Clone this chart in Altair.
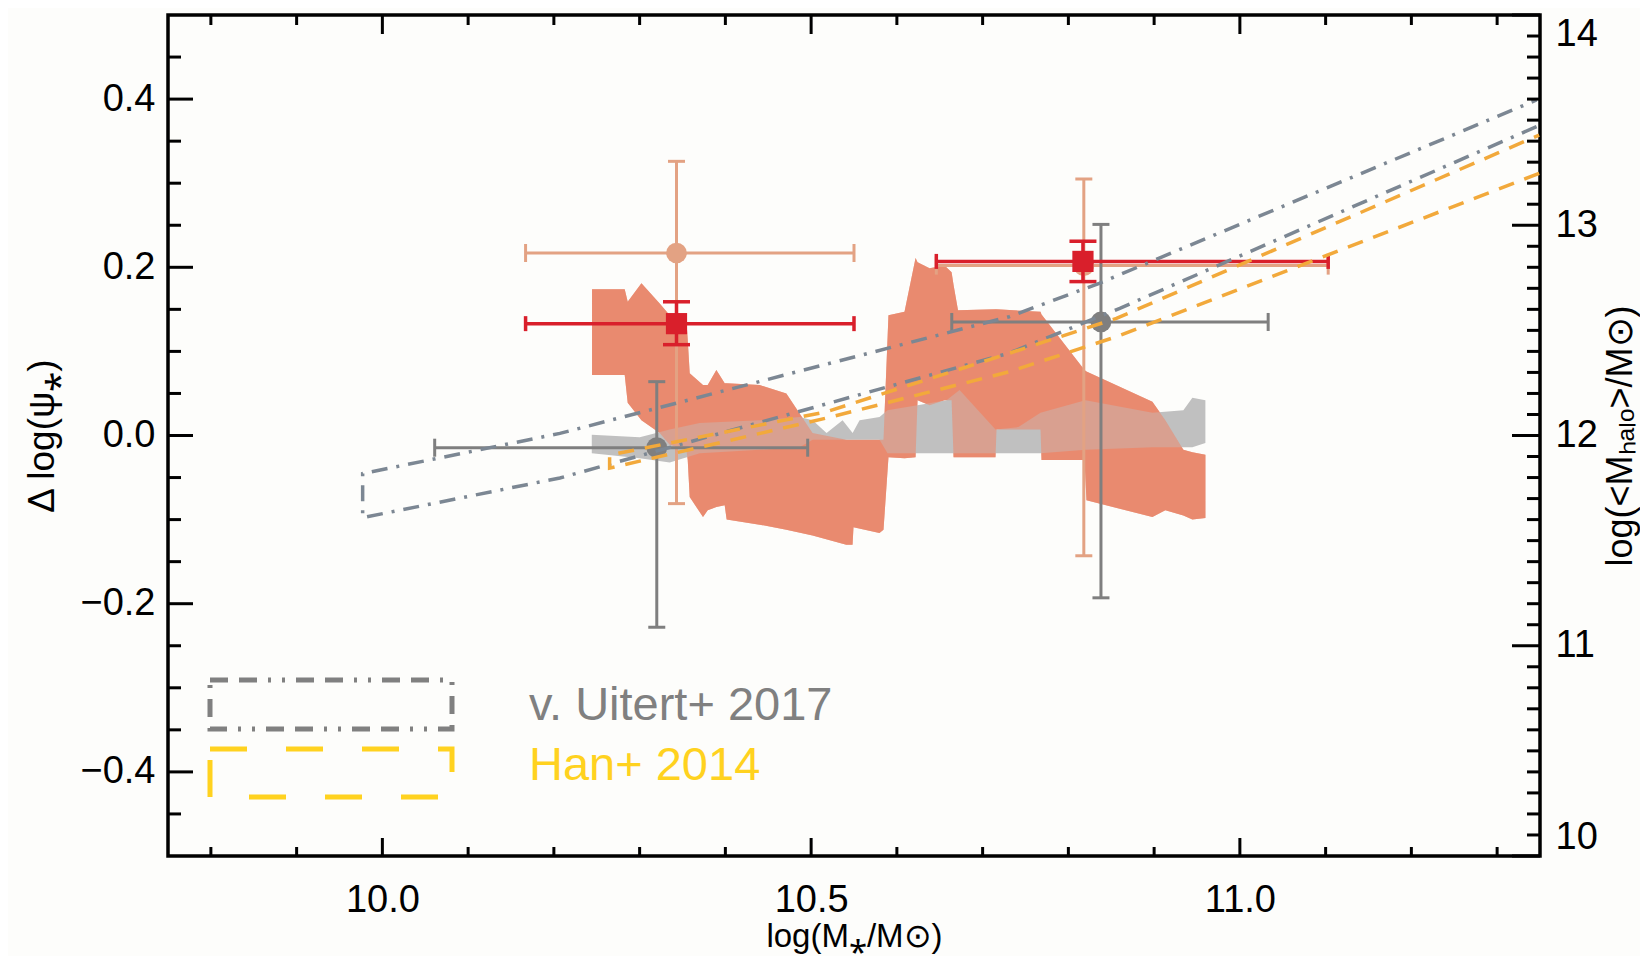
import altair as alt
import pandas as pd

# ---------------- data ----------------
# salmon shaded band (left axis)
salmon_x = [10.2445, 10.2826, 10.2861, 10.3021, 10.3234, 10.3351, 10.3545, 10.3561, 10.3584, 10.3739,
            10.3794, 10.3895, 10.3992, 10.4015, 10.4400, 10.4711, 10.5017, 10.5410, 10.5483, 10.5494,
            10.5797, 10.5844, 10.5902, 10.6089, 10.6218, 10.6241, 10.6381, 10.6556, 10.6638, 10.6661,
            10.6713, 10.7150, 10.7162, 10.7675, 10.7687, 10.8188, 10.8211, 10.8980, 10.9131, 10.9341,
            10.9446, 10.9598]
salmon_hi = [0.174, 0.174, 0.159, 0.181, 0.157, 0.143, 0.137, 0.114, 0.074, 0.060,
             0.060, 0.078, 0.062, 0.062, 0.060, 0.050, 0.003, -0.005, -0.005, -0.005,
             -0.005, -0.005, 0.143, 0.147, 0.211, 0.206, 0.199, 0.202, 0.194, 0.179,
             0.149, 0.150, 0.150, 0.147, 0.144, 0.078, 0.076, 0.040, 0.018, -0.017,
             -0.020, -0.023]
salmon_lo = [0.072, 0.072, 0.039, 0.018, 0.003, -0.011, -0.017, -0.029, -0.073, -0.097,
             -0.089, -0.085, -0.083, -0.100, -0.106, -0.112, -0.119, -0.130, -0.130, -0.109,
             -0.116, -0.112, -0.026, -0.027, -0.026, 0.042, 0.036, 0.042, 0.042, -0.026,
             -0.026, -0.026, 0.007, 0.007, -0.029, -0.029, -0.077, -0.097, -0.089, -0.095,
             -0.100, -0.098]

# grey shaded band (left axis)
grey_x = [10.2442, 10.3001, 10.3351, 10.3701, 10.4400, 10.4866, 10.5017, 10.5180, 10.5367, 10.5484,
          10.5565, 10.5798, 10.5891, 10.6241, 10.6579, 10.6731, 10.7150, 10.7418, 10.7675, 10.8199,
          10.8980, 10.9341, 10.9446, 10.9598]
grey_hi = [0.001, -0.002, 0.007, 0.015, 0.018, 0.022, 0.018, 0.003, 0.018, 0.003,
           0.018, 0.022, 0.030, 0.036, 0.042, 0.054, 0.007, 0.010, 0.027, 0.042,
           0.027, 0.030, 0.045, 0.042]
grey_lo = [-0.021, -0.027, -0.032, -0.021, -0.017, -0.014, -0.005, -0.005, -0.005, -0.005,
           -0.005, -0.005, -0.021, -0.021, -0.021, -0.021, -0.021, -0.021, -0.021, -0.017,
           -0.014, -0.014, -0.014, -0.009]

# data points with error bars
peach_x = [10.343, 10.818]
peach_y = [0.217, 0.202]
peach_xlo = [10.167, 10.646]
peach_xhi = [10.550, 11.103]
peach_ylo = [-0.081, -0.143]
peach_yhi = [0.326, 0.305]

red_x = [10.343, 10.817]
red_y = [0.133, 0.207]
red_xlo = [10.167, 10.646]
red_xhi = [10.550, 11.103]
red_ylo = [0.108, 0.183]
red_yhi = [0.159, 0.231]

grey_px = [10.320, 10.838]
grey_py = [-0.0145, 0.135]
grey_xlo = [10.061, 10.664]
grey_xhi = [10.496, 11.033]
grey_ylo = [-0.228, -0.193]
grey_yhi = [0.064, 0.251]

# model bands (right axis, log <M_halo>)
uitert_x_up = [9.977, 10.207, 10.731, 10.836, 11.346]
uitert_up = [11.819, 12.010, 12.565, 12.724, 13.596]
uitert_x_lo = [9.977, 10.207, 10.731, 10.860, 11.346]
uitert_lo = [11.609, 11.798, 12.392, 12.605, 13.469]
han_x = [10.265, 10.518, 10.731, 10.856, 11.349]
han_up = [11.907, 12.113, 12.391, 12.557, 13.429]
han_lo = [11.845, 12.083, 12.303, 12.470, 13.247]

# tick positions
x_major = [10.0, 10.5, 11.0]
x_minor = [9.8, 9.9, 10.1, 10.2, 10.3, 10.4, 10.6, 10.7, 10.8, 10.9, 11.1, 11.2, 11.3]
y_major = [-0.4, -0.2, 0.0, 0.2, 0.4]
y_minor = [-0.45, -0.35, -0.3, -0.25, -0.15, -0.1, -0.05, 0.05, 0.1, 0.15, 0.25, 0.3, 0.35, 0.45]
r_major = [10, 11, 12, 13, 14]
r_minor = [10.1, 10.2, 10.3, 10.4, 10.5, 10.6, 10.7, 10.8, 10.9,
           11.1, 11.2, 11.3, 11.4, 11.5, 11.6, 11.7, 11.8, 11.9,
           12.1, 12.2, 12.3, 12.4, 12.5, 12.6, 12.7, 12.8, 12.9,
           13.1, 13.2, 13.3, 13.4, 13.5, 13.6, 13.7, 13.8, 13.9]

legend_labels = ["v. Uitert+ 2017", "Han+ 2014"]

# ---------------- styling ----------------
W, H = 1372, 841
FONT = "Liberation Sans"
BG = "#FDFDFB"
SALMON = "#E98B6F"
GREYBAND = "#C0C0C0"
PEACH = "#E3A283"
RED = "#D91F2B"
GREY = "#7F7F7F"
SLATE = "#7C8793"
ORANGE = "#F2A93B"
YELLOW = "#FFD21F"

XS = alt.Scale(domain=[9.75, 11.35], nice=False, zero=False)
YS = alt.Scale(domain=[-0.5, 0.5], nice=False, zero=False)
RS = alt.Scale(domain=[10.0, 14.0], nice=False, zero=False)

x_axis = alt.Axis(orient="bottom", values=x_major, format=".1f", ticks=False, domain=False,
                  grid=False, labelFontSize=38, labelPadding=25, title="log(M⁎/M⊙)",
                  titleFontSize=33, titlePadding=1)
y_axis = alt.Axis(orient="left", values=y_major, format=".1f", ticks=False, domain=False,
                  grid=False, labelFontSize=38, labelPadding=13, title="Δ log(ψ⁎)",
                  titleFontSize=37, titlePadding=18)
r_axis = alt.Axis(orient="right", values=r_major, format="d", ticks=False, domain=False,
                  grid=False, labelFontSize=38, labelPadding=15, labelFlush=True,
                  title="log(<Mₕₐₗₒ>/M⊙)", titleFontSize=36, titleAngle=270,
                  titleBaseline="top", titlePadding=6)


def X(f):
    return alt.X(f, scale=XS, axis=x_axis)


def Y(f):
    return alt.Y(f, scale=YS, axis=y_axis)


def R(f):
    return alt.Y(f, scale=RS, axis=r_axis)


# ---------------- bands ----------------
sal_df = pd.DataFrame({"x": salmon_x, "hi": salmon_hi, "lo": salmon_lo})
gry_df = pd.DataFrame({"x": grey_x, "hi": grey_hi, "lo": grey_lo})

salmon = alt.Chart(sal_df).mark_area(color=SALMON, opacity=1, interpolate="linear").encode(
    x=X("x:Q"), y=Y("hi:Q"), y2="lo:Q")
greyband = alt.Chart(gry_df).mark_area(color=GREYBAND, opacity=1, interpolate="linear").encode(
    x=X("x:Q"), y=Y("hi:Q"), y2="lo:Q")
salmon_tint = alt.Chart(sal_df).mark_area(color=SALMON, opacity=0.6, interpolate="linear").encode(
    x=X("x:Q"), y=Y("hi:Q"), y2="lo:Q")


# ---------------- error bars ----------------
def errorbars(xs, ys, xlo, xhi, ylo, yhi, color, lw, cap_h, cap_v):
    df = pd.DataFrame({"x": xs, "y": ys, "xlo": xlo, "xhi": xhi, "ylo": ylo, "yhi": yhi})
    base = alt.Chart(df)
    hbar = base.mark_rule(color=color, strokeWidth=lw).encode(
        x=X("xlo:Q"), x2="xhi:Q", y=Y("y:Q"))
    vbar = base.mark_rule(color=color, strokeWidth=lw).encode(
        x=X("x:Q"), y=Y("ylo:Q"), y2="yhi:Q")
    hcap = base.transform_fold(["xlo", "xhi"], as_=["k", "xe"]).mark_tick(
        orient="vertical", size=cap_h, thickness=lw, color=color, opacity=1).encode(
        x=X("xe:Q"), y=Y("y:Q"))
    vcap = base.transform_fold(["ylo", "yhi"], as_=["k", "ye"]).mark_tick(
        orient="horizontal", size=cap_v, thickness=lw, color=color, opacity=1).encode(
        x=X("x:Q"), y=Y("ye:Q"))
    return df, [hbar, vbar, hcap, vcap]


peach_df, peach_bars = errorbars(peach_x, peach_y, peach_xlo, peach_xhi, peach_ylo, peach_yhi,
                                 PEACH, 3, 18, 17)
grey_df, grey_bars = errorbars(grey_px, grey_py, grey_xlo, grey_xhi, grey_ylo, grey_yhi,
                               GREY, 3, 18, 17)
red_df, red_bars = errorbars(red_x, red_y, red_xlo, red_xhi, red_ylo, red_yhi,
                             RED, 3.5, 15, 27)

peach_pts = alt.Chart(peach_df).mark_circle(size=430, color=PEACH, opacity=1).encode(
    x=X("x:Q"), y=Y("y:Q"))
grey_pts = alt.Chart(grey_df).mark_circle(size=430, color=GREY, opacity=1).encode(
    x=X("x:Q"), y=Y("y:Q"))
red_pts = alt.Chart(red_df).mark_square(size=450, color=RED, opacity=1).encode(
    x=X("x:Q"), y=Y("y:Q"))

# ---------------- in-plot legend ----------------
leg_df = pd.DataFrame({"label": legend_labels})
leg_grey_box = alt.Chart(leg_df.iloc[[0]]).mark_rect(
    fillOpacity=0, stroke="#808080", strokeWidth=5,
    strokeDash=[18, 11, 18, 11, 3, 11, 3, 11]).encode(
    x=alt.value(42), x2=alt.value(284), y=alt.value(665), y2=alt.value(714))
leg_yel_box = alt.Chart(leg_df.iloc[[1]]).mark_rect(
    fillOpacity=0, stroke=YELLOW, strokeWidth=5, strokeDash=[37, 39]).encode(
    x=alt.value(42), x2=alt.value(284), y=alt.value(734), y2=alt.value(782))
leg_grey_txt = alt.Chart(leg_df.iloc[[0]]).mark_text(
    font=FONT, fontSize=47, color="#808080", align="left", baseline="alphabetic").encode(
    text="label:N", x=alt.value(361), y=alt.value(705))
leg_yel_txt = alt.Chart(leg_df.iloc[[1]]).mark_text(
    font=FONT, fontSize=47, color=YELLOW, align="left", baseline="alphabetic").encode(
    text="label:N", x=alt.value(361), y=alt.value(765))


# ---------------- inward tick marks ----------------
def xticks(vals, length, top):
    y0, y1 = (0, length) if top else (H, H - length)
    return alt.Chart(pd.DataFrame({"v": vals})).mark_rule(color="black", strokeWidth=3).encode(
        x=X("v:Q"), y=alt.value(y0), y2=alt.value(y1))


def yticks(vals, length, enc, right):
    x0, x1 = (W, W - length) if right else (0, length)
    return alt.Chart(pd.DataFrame({"v": vals})).mark_rule(color="black", strokeWidth=3).encode(
        y=enc("v:Q"), x=alt.value(x0), x2=alt.value(x1))


tick_layers = [
    xticks(x_major, 18, False), xticks(x_minor, 9, False),
    xticks(x_major, 19, True), xticks(x_minor, 10, True),
    yticks(y_major, 25, Y, False), yticks(y_minor, 13, Y, False),
]

left_group = alt.layer(
    salmon, greyband, salmon_tint,
    *peach_bars, peach_pts,
    *grey_bars, grey_pts,
    *red_bars, red_pts,
    leg_grey_box, leg_yel_box, leg_grey_txt, leg_yel_txt,
    *tick_layers,
)


# ---------------- model bands on the right axis ----------------
def outline(xu, yu, xl, yl):
    xs = list(reversed(xl)) + list(xu)
    ys = list(reversed(yl)) + list(yu)
    return pd.DataFrame({"x": xs, "y": ys, "i": list(range(len(xs)))})


uitert_df = outline(uitert_x_up, uitert_up, uitert_x_lo, uitert_lo)
han_df = outline(han_x, han_up, han_x, han_lo)

uitert_line = alt.Chart(uitert_df).mark_line(
    color=SLATE, strokeWidth=3.5, strokeDash=[16, 9, 3, 9], clip=True).encode(
    x=X("x:Q"), y=R("y:Q"), order="i:Q")
han_line = alt.Chart(han_df).mark_line(
    color=ORANGE, strokeWidth=3.5, strokeDash=[16, 11], clip=True).encode(
    x=X("x:Q"), y=R("y:Q"), order="i:Q")

right_group = alt.layer(
    uitert_line, han_line,
    yticks(r_major, 28, R, True), yticks(r_minor, 13, R, True),
)

chart = alt.layer(left_group, right_group).resolve_scale(y="independent").properties(
    width=W, height=H,
    autosize=alt.AutoSizeParams(type="none"),
    padding={"left": 160, "top": 7, "right": 100, "bottom": 100},
    background=BG,
).configure_view(
    stroke="black", strokeWidth=3.5, fill=BG,
).configure_axis(
    labelFont=FONT, titleFont=FONT, labelColor="black", titleColor="black",
    titleFontWeight="normal",
)

chart.save("out.html", embed_options={"renderer": "svg", "actions": False})
